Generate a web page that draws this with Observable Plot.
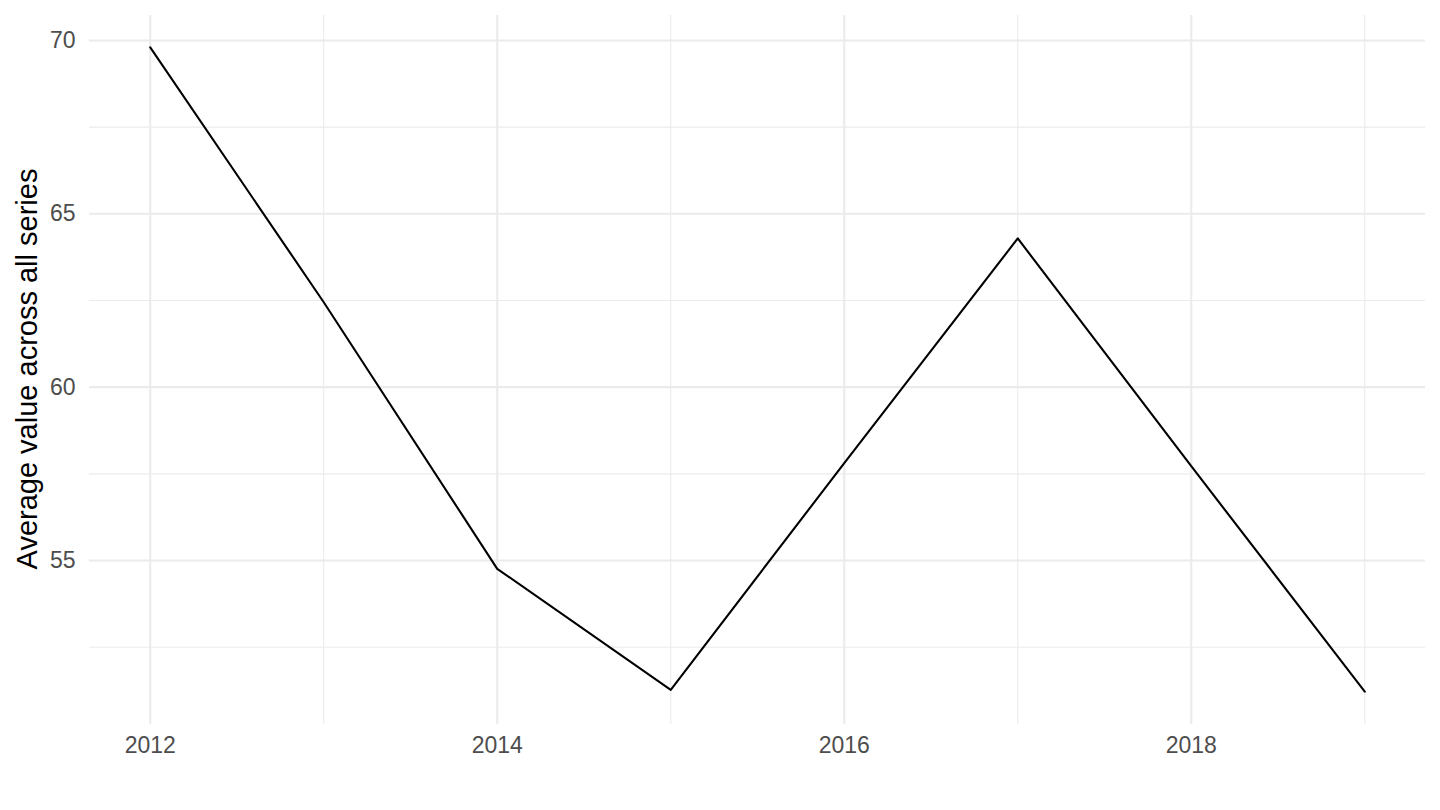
<!DOCTYPE html>
<html>
<head>
<meta charset="utf-8">
<script src="https://cdn.jsdelivr.net/npm/d3@7"></script>
<script src="https://cdn.jsdelivr.net/npm/@observablehq/plot@0.6"></script>
<style>
  html, body { margin: 0; padding: 0; background: #fff; }
  #chart svg { display: block; }
</style>
</head>
<body>
<div id="chart"></div>
<script>
const years = [2012, 2013, 2014, 2015, 2016, 2017, 2018, 2019];
const values = [69.8, 62.45, 54.76, 51.27, 57.81, 64.29, 57.72, 51.22];
const xMajorTicks = [2012, 2014, 2016, 2018];
const xMinorTicks = [2013, 2015, 2017, 2019];
const yMajorTicks = [55, 60, 65, 70];
const yMinorTicks = [52.5, 57.5, 62.5, 67.5];
const yTitle = "Average value across all series";

const data = years.map((y, i) => ({year: y, value: values[i]}));

const chart = Plot.plot({
  width: 1440,
  height: 810,
  marginLeft: 89,
  marginRight: 15,
  marginTop: 15,
  marginBottom: 86,
  style: {fontFamily: "Liberation Sans, Arial, sans-serif", background: "#fff"},
  x: {domain: [2011.65, 2019.35]},
  y: {domain: [50.27, 70.72]},
  marks: [
    Plot.ruleY(yMinorTicks, {stroke: "#EBEBEB", strokeWidth: 1.1}),
    Plot.ruleX(xMinorTicks, {stroke: "#EBEBEB", strokeWidth: 1.1}),
    Plot.ruleY(yMajorTicks, {stroke: "#EBEBEB", strokeWidth: 2.1}),
    Plot.ruleX(xMajorTicks, {stroke: "#EBEBEB", strokeWidth: 2.1}),
    Plot.axisX({ticks: xMajorTicks, tickSize: 0, tickPadding: 12, tickFormat: d => String(d),
      fontSize: 23, color: "#4D4D4D", label: null}),
    Plot.axisY({ticks: yMajorTicks, tickSize: 0, tickPadding: 14, fontSize: 23,
      color: "#4D4D4D", label: null}),
    Plot.line(data, {x: "year", y: "value", stroke: "#000", strokeWidth: 2.1})
  ]
});

const svg = d3.select(chart);
svg.append("text")
  .attr("transform", "translate(37,369) rotate(-90)")
  .attr("text-anchor", "middle")
  .attr("font-size", 29)
  .attr("font-family", "Liberation Sans, Arial, sans-serif")
  .attr("fill", "#000")
  .text(yTitle);

document.getElementById("chart").appendChild(chart);
</script>
</body>
</html>
